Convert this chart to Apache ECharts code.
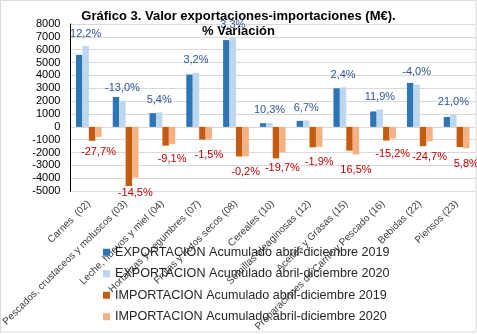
<!DOCTYPE html>
<html>
<head>
<meta charset="utf-8">
<script src="https://cdn.jsdelivr.net/npm/echarts@6/dist/echarts.min.js"></script>
<style>
  html, body { margin: 0; padding: 0; background: #fff; }
  #chart { width: 477px; height: 334px; }
</style>
</head>
<body>
<div id="chart"></div>
<script>
// Product chapters (TARIC codes)
const categories = [
  'Carnes  (02)',
  'Pescados, crustaceos y moluscos (03)',
  'Leche, huevos y miel (04)',
  'Hortalizas y Legumbres (07)',
  'Frutas y frutos secos (08)',
  'Cereales (10)',
  'Semillas oleaginosas (12)',
  'Aceites y Grasas (15)',
  'Preparaciones de Carne y Pescado (16)',
  'Bebidas (22)',
  'Piensos (23)'
];

// Values in millions of euros, April-December
const export2019 = [5600, 2325, 1070, 4070, 6750, 285, 470, 3000, 1200, 3420, 770];
const export2020 = [6283, 2023, 1128, 4200, 6973, 314, 502, 3072, 1343, 3283, 932];
const import2019 = [-1080, -4600, -1460, -990, -2300, -2450, -1590, -1850, -1060, -1500, -1575];
const import2020 = [-781, -3933, -1327, -975, -2295, -1967, -1560, -2155, -899, -1130, -1666];

// Year-on-year change labels
const exportChange = ['12,2%', '-13,0%', '5,4%', '3,2%', '3,3%', '10,3%', '6,7%', '2,4%', '11,9%', '-4,0%', '21,0%'];
const importChange = ['-27,7%', '-14,5%', '-9,1%', '-1,5%', '-0,2%', '-19,7%', '-1,9%', '16,5%', '-15,2%', '-24,7%', '5,8%'];

// Y axis ticks
const yMin = -5000, yMax = 8000, yStep = 1000;

const seriesNames = [
  'EXPORTACION Acumulado abril-diciembre 2019',
  'EXPORTACION Acumulado abril-diciembre 2020',
  'IMPORTACION Acumulado abril-diciembre 2019',
  'IMPORTACION Acumulado abril-diciembre 2020'
];
const colors = ['#2E75B6', '#BDD7EE', '#C55A11', '#F4B183'];
const FONT = '"Liberation Sans", Arial, sans-serif';

const chart = echarts.init(document.getElementById('chart'), null, { renderer: 'canvas' });

const changeLabel = (texts, color, dist) => ({
  show: true,
  position: 'outside',
  distance: dist,
  fontFamily: FONT,
  fontSize: 11,
  color: color,
  formatter: p => texts[p.dataIndex]
});

const titleStyle = { fontFamily: FONT, fontSize: 13, fontWeight: 'bold', color: '#000' };

chart.setOption({
  animation: false,
  backgroundColor: '#fff',
  title: [
    { text: 'Gráfico 3. Valor exportaciones-importaciones (M€).', left: 'center', top: 10, padding: 0, textStyle: titleStyle },
    { text: '% Variación', left: 'center', top: 25, padding: 0, textStyle: titleStyle }
  ],
  grid: { left: 41, right: 2, top: 24, bottom: 138, containLabel: false },
  legend: {
    orient: 'vertical',
    left: 103,
    top: 245,
    padding: 0,
    itemWidth: 7,
    itemHeight: 7,
    itemGap: 7,
    icon: 'rect',
    textStyle: { fontFamily: FONT, fontSize: 12.6, color: '#262626', lineHeight: 14.5 },
    data: seriesNames
  },
  xAxis: {
    type: 'category',
    data: categories,
    axisLine: { show: false, onZero: false },
    axisTick: { show: false },
    axisLabel: {
      rotate: 45,
      interval: 0,
      margin: 11,
      fontFamily: FONT,
      fontSize: 10,
      color: '#404040'
    }
  },
  yAxis: {
    type: 'value',
    min: yMin,
    max: yMax,
    interval: yStep,
    axisLine: { show: true, lineStyle: { color: '#000', width: 1 } },
    axisTick: { show: false },
    axisLabel: { fontFamily: FONT, fontSize: 11, color: '#000', margin: 10, formatter: v => String(v) },
    splitLine: { lineStyle: { color: '#D9D9D9', width: 1 } }
  },
  series: [
    { name: seriesNames[0], type: 'bar', data: export2019, itemStyle: { color: colors[0] },
      barGap: '0%', barCategoryGap: '30%' },
    { name: seriesNames[1], type: 'bar', data: export2020, itemStyle: { color: colors[1] },
      label: changeLabel(exportChange, '#2F5597', 7) },
    { name: seriesNames[2], type: 'bar', data: import2019, itemStyle: { color: colors[2] } },
    { name: seriesNames[3], type: 'bar', data: import2020, itemStyle: { color: colors[3] },
      label: changeLabel(importChange, '#C00000', 10) }
  ],
  graphic: [{
    type: 'rect',
    shape: { x: 0.5, y: 0.5, width: 475.5, height: 331.5 },
    style: { fill: 'none', stroke: '#D9D9D9', lineWidth: 1 },
    silent: true
  }]
});
</script>
</body>
</html>
